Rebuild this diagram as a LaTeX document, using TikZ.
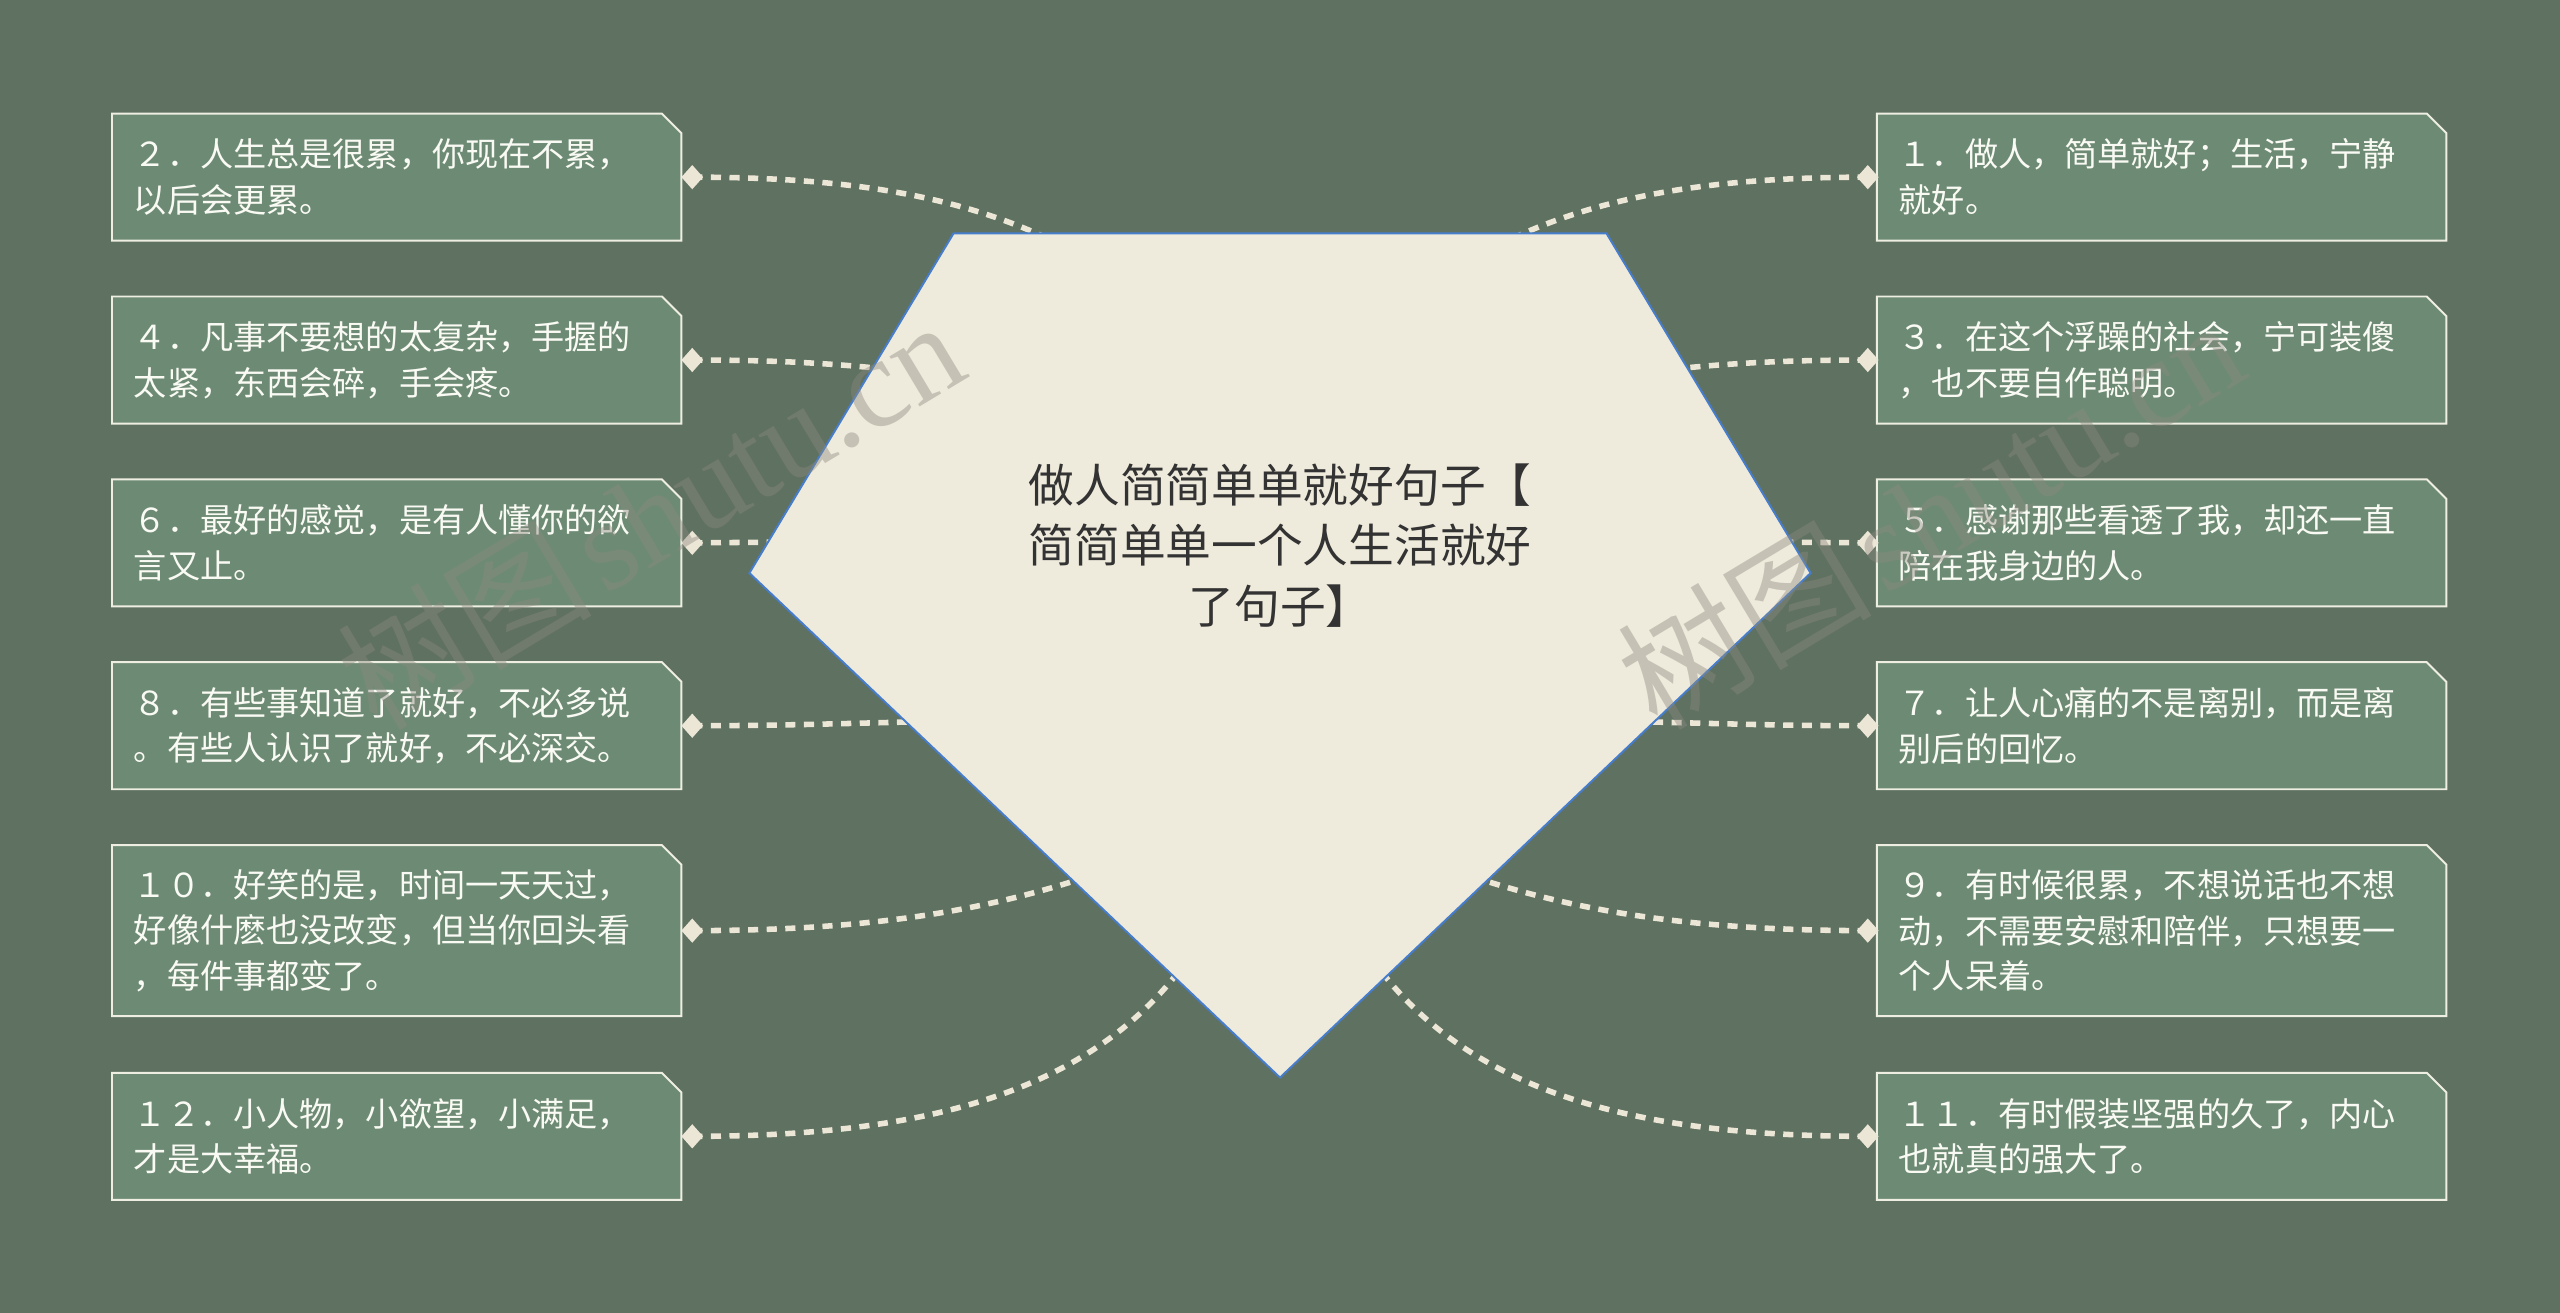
\documentclass[tikz,border=0pt]{standalone}
\usepackage{fontspec}
\newfontfamily\cjk{Noto Sans CJK SC}
\newfontfamily\wmserif{Liberation Serif}
\usetikzlibrary{shapes.geometric}
\pgfdeclarelayer{bg}
\pgfsetlayers{bg,main}
\definecolor{bgc}{RGB}{95,113,97}
\definecolor{boxc}{RGB}{109,139,116}
\definecolor{boxline}{RGB}{238,238,226}
\definecolor{linec}{RGB}{236,230,214}
\definecolor{pentc}{RGB}{239,235,220}
\definecolor{pentline}{RGB}{70,125,205}
\definecolor{titlec}{RGB}{51,51,51}
\definecolor{leaftext}{RGB}{250,250,244}
\definecolor{wmc}{RGB}{140,137,127}
\begin{document}
\begin{tikzpicture}[x=0.5pt,y=-0.5pt,
  leaf/.style={rectangle, minimum width=174pt, text width=161pt, inner xsep=6.5pt, inner ysep=0pt,
    align=left, text=leaftext, font=\cjk\fontsize{10.15}{14}\selectfont},
  two/.style={minimum height=38.5pt},
  three/.style={minimum height=52pt},
  dia/.style={diamond, fill=linec, inner sep=0pt, minimum width=6.8pt, minimum height=7.6pt},
  conn/.style={draw=linec, line width=1.7pt, dash pattern=on 3.1pt off 2.6pt},
  outline/.style={draw=boxline, line width=0.6pt, fill=boxc},
  wm/.style={text=wmc, text opacity=0.42, rotate=31, inner sep=0pt},
  title/.style={align=center, text=titlec, font=\cjk\fontsize{14}{18.5}\selectfont, inner sep=0pt}
]
\useasboundingbox (0,0) rectangle (1568,804);

% ---------- leaf boxes (left) ----------
\node[leaf,two]   (b2)  at (243,108.5) {２．人生总是很累，你现在不累，\\以后会更累。};
\node[leaf,two]   (b4)  at (243,220.5) {４．凡事不要想的太复杂，手握的\\太紧，东西会碎，手会疼。};
\node[leaf,two]   (b6)  at (243,332.5) {６．最好的感觉，是有人懂你的欲\\言又止。};
\node[leaf,two]   (b8)  at (243,444.5) {８．有些事知道了就好，不必多说\\。有些人认识了就好，不必深交。};
\node[leaf,three] (b10) at (243,570)   {１０．好笑的是，时间一天天过，\\好像什麽也没改变，但当你回头看\\，每件事都变了。};
\node[leaf,two]   (b12) at (243,696)   {１２．小人物，小欲望，小满足，\\才是大幸福。};
% ---------- leaf boxes (right) ----------
\node[leaf,two]   (b1)  at (1324,108.5) {１．做人，简单就好；生活，宁静\\就好。};
\node[leaf,two]   (b3)  at (1324,220.5) {３．在这个浮躁的社会，宁可装傻\\，也不要自作聪明。};
\node[leaf,two]   (b5)  at (1324,332.5) {５．感谢那些看透了我，却还一直\\陪在我身边的人。};
\node[leaf,two]   (b7)  at (1324,444.5) {７．让人心痛的不是离别，而是离\\别后的回忆。};
\node[leaf,three] (b9)  at (1324,570)   {９．有时候很累，不想说话也不想\\动，不需要安慰和陪伴，只想要一\\个人呆着。};
\node[leaf,two]   (b11) at (1324,696)   {１１．有时假装坚强的久了，内心\\也就真的强大了。};

% ---------- center pentagon ----------
\coordinate (p1) at (584,143);
\coordinate (p2) at (984,143);
\coordinate (p3) at (1109,351);
\coordinate (p4) at (784,660);
\coordinate (p5) at (459,351);
\filldraw[fill=pentc, draw=pentline, line width=0.6pt, line join=miter] (p1) -- (p2) -- (p3) -- (p4) -- (p5) -- cycle;
\node[title] (center) at (784,334) {做人简简单单就好句子【\\简简单单一个人生活就好\\了句子】};

% ---------- diamonds ----------
\foreach \n/\yy in {2/108.5,4/220.5,6/332.5,8/444.5,10/570,12/696} {
  \node[dia] (d\n) at (424,\yy) {};
}
\foreach \n/\yy in {1/108.5,3/220.5,5/332.5,7/444.5,9/570,11/696} {
  \node[dia] (d\n) at (1144,\yy) {};
}

% hidden end points (inside the pentagon)
\coordinate (e2)  at (650,150);
\coordinate (e4)  at (552,227);
\coordinate (e6)  at (482,332);
\coordinate (e8)  at (566,442);
\coordinate (e10) at (672,535);
\coordinate (e12) at (730,584);
\coordinate (e1)  at (918,150);
\coordinate (e3)  at (1016,227);
\coordinate (e5)  at (1086,332);
\coordinate (e7)  at (1002,442);
\coordinate (e9)  at (896,535);
\coordinate (e11) at (838,584);

% ---------- watermarks ----------
\node[wm] (wm1) at (398,314) {{\cjk\fontsize{39}{39}\selectfont 树图} {\wmserif\fontsize{39}{39}\selectfont shutu.cn}};
\node[wm] (wm2) at (1182,314) {{\cjk\fontsize{39}{39}\selectfont 树图} {\wmserif\fontsize{39}{39}\selectfont shutu.cn}};

\begin{pgfonlayer}{bg}
  \fill[bgc] (0,0) rectangle (1568,804);
  \foreach \b in {b1,b2,b3,b4,b5,b6,b7,b8,b9,b10,b11,b12} {
    \draw[outline] (\b.south west) -- (\b.north west) -- ([xshift=-6pt]\b.north east)
      -- ([yshift=-6pt]\b.north east) -- (\b.south east) -- cycle;
  }
  % left connectors
  \draw[conn] (d2.center)  .. controls (520,108.5) and (590,120) .. (e2);
  \draw[conn] (d4.center)  .. controls (480,220.5) and (515,223) .. (e4);
  \draw[conn] (d6.center)  -- (e6);
  \draw[conn] (d8.center)  .. controls (480,444.5) and (520,443) .. (e8);
  \draw[conn] (d10.center) .. controls (540,570) and (610,556) .. (e10);
  \draw[conn] (d12.center) .. controls (560,696) and (670,672) .. (e12);
  % right connectors
  \draw[conn] (d1.center)  .. controls (1048,108.5) and (978,120) .. (e1);
  \draw[conn] (d3.center)  .. controls (1088,220.5) and (1053,223) .. (e3);
  \draw[conn] (d5.center)  -- (e5);
  \draw[conn] (d7.center)  .. controls (1088,444.5) and (1048,443) .. (e7);
  \draw[conn] (d9.center)  .. controls (1028,570) and (958,556) .. (e9);
  \draw[conn] (d11.center) .. controls (1008,696) and (898,672) .. (e11);
\end{pgfonlayer}
\end{tikzpicture}
\end{document}
